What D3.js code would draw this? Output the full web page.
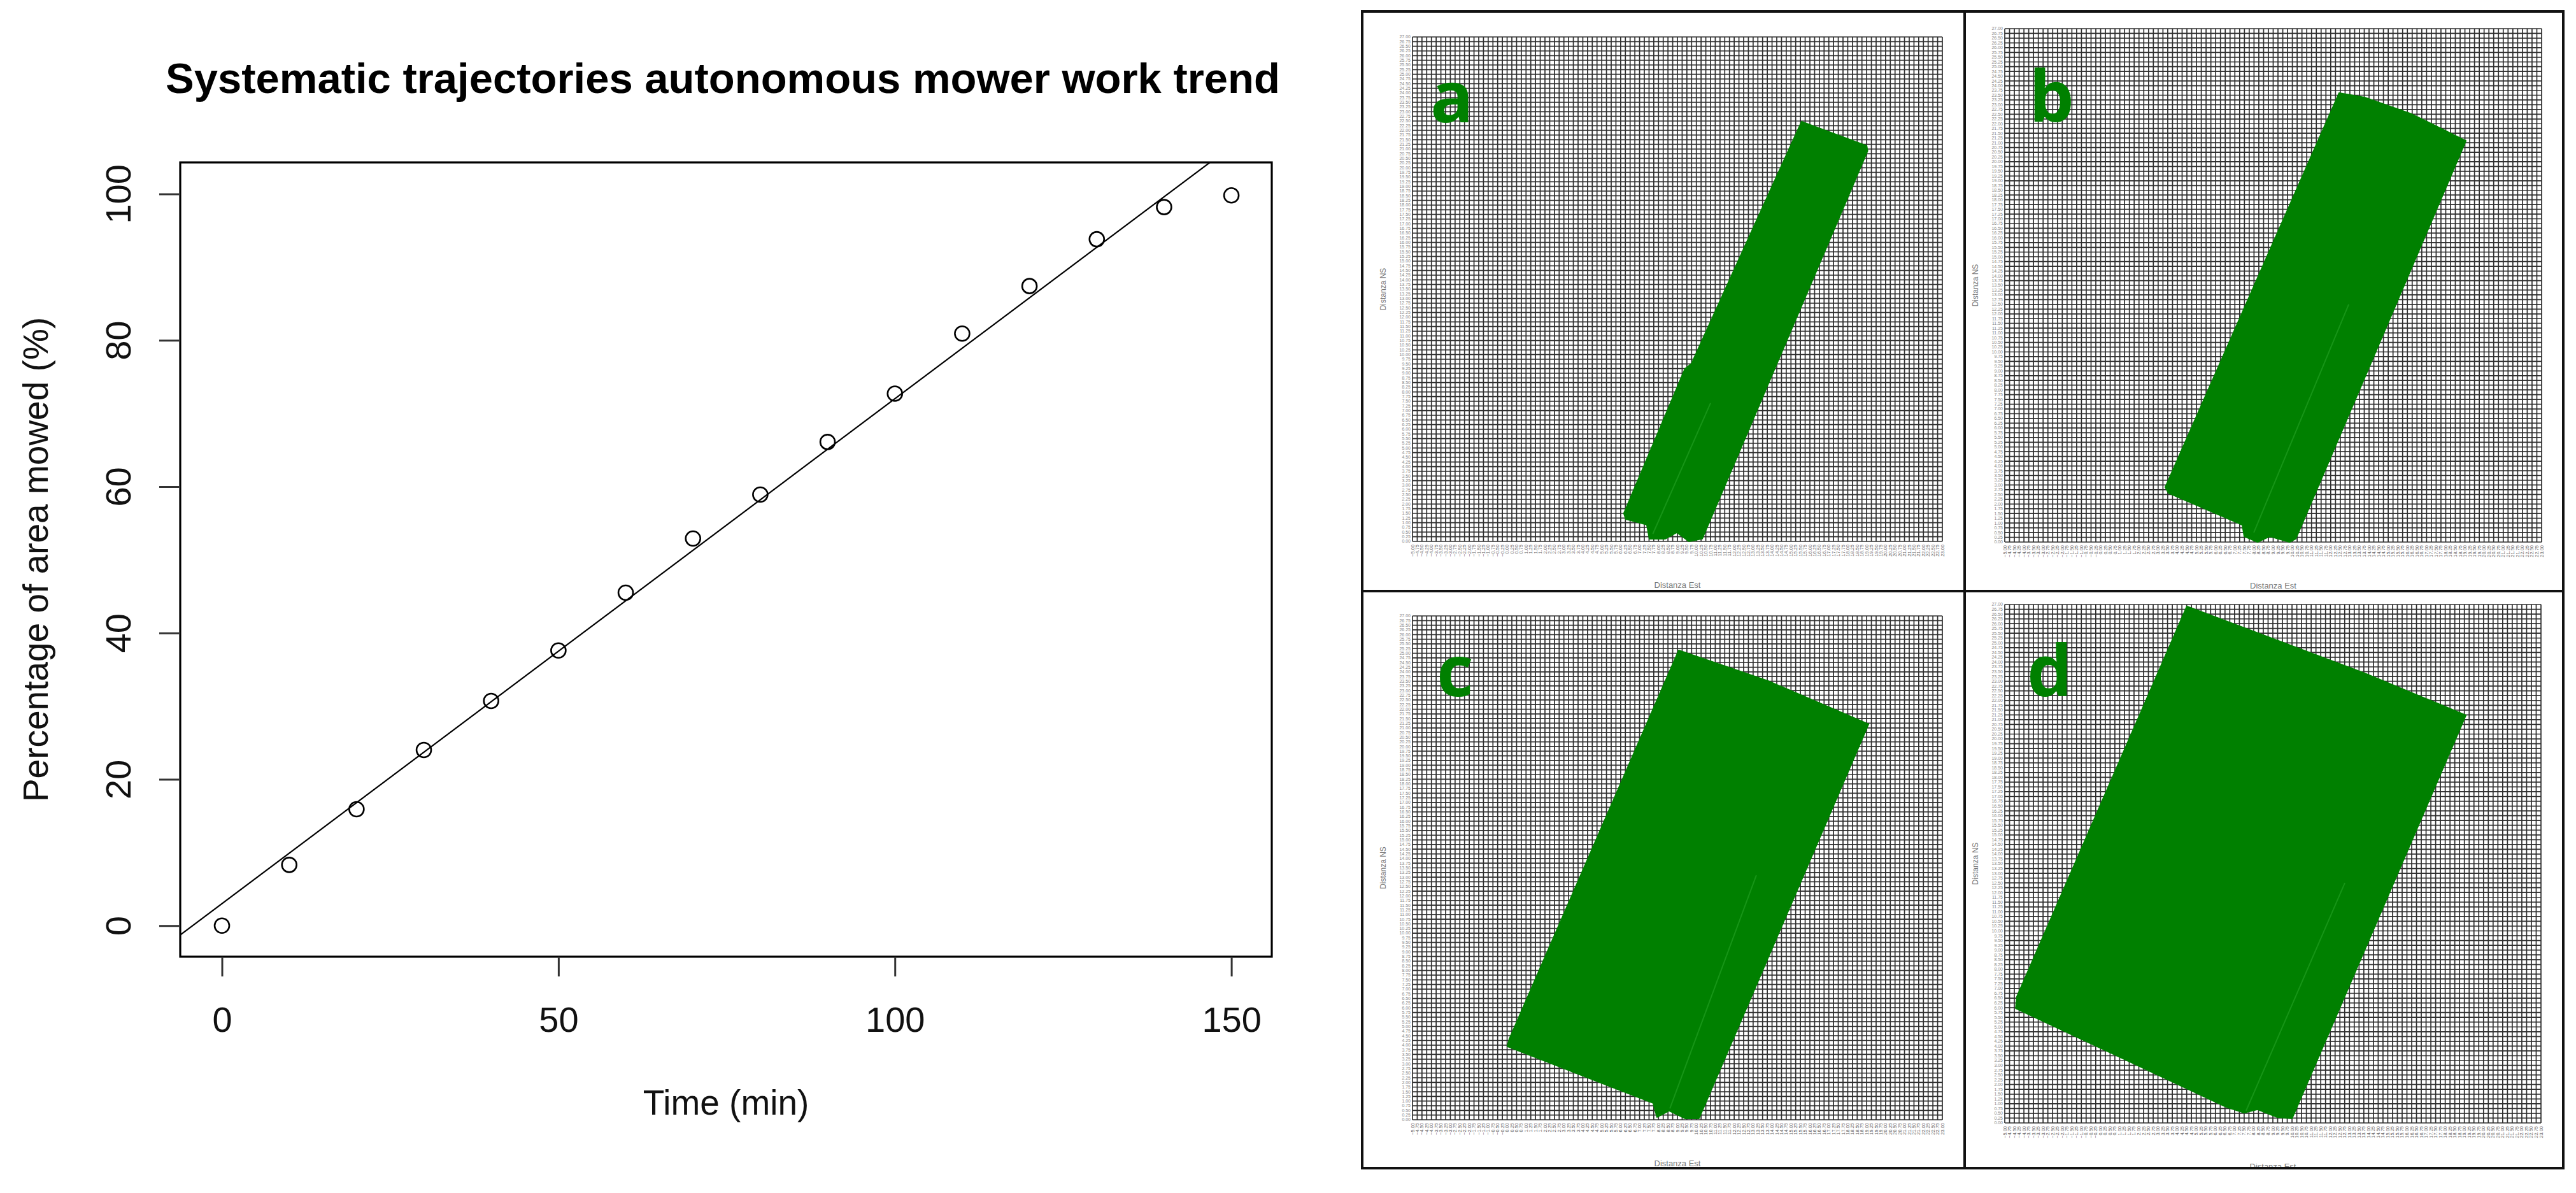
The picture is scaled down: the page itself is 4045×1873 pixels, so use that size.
<!DOCTYPE html>
<html><head><meta charset="utf-8">
<script src="https://cdn.jsdelivr.net/npm/d3@7"></script>
<style>html,body{margin:0;padding:0;background:#fff;} svg{display:block}</style>
</head><body>
<svg id="chart" width="4045" height="1873"></svg>
<script>
// ---------- data: left scatter chart ----------
const timeMin = [0,10,20,30,40,50,60,70,80,90,100,110,120,130,140,150];
const areaMowed = [0.0,8.3,15.9,24.0,30.7,37.6,45.5,52.9,58.9,66.1,72.7,80.9,87.4,93.8,98.2,99.8];
const xTickValues = [0,50,100,150];
const yTickValues = [0,20,40,60,80,100];
const fitIntercept = 3.0;
const fitSlope = 0.690;
const chartTitle = "Systematic trajectories autonomous mower work trend";
const xTitle = "Time (min)";
const yTitle = "Percentage of area mowed (%)";

// ---------- data: right mowed-area maps ----------
const panelNames = ["a","b","c","d"];
const eastDomain = [-5, 23];
const northDomain = [0, 27];
const gridStep = 0.25;
const eastTitle = "Distanza Est";
const northTitle = "Distanza NS";
const polyA = [[15.56,22.47],[19.0,21.17],[19.05,20.9],[10.31,0.14],[9.61,0.0],[8.97,0.48],[8.36,0.14],[7.52,0.14],[7.38,0.89],[6.27,1.19],[6.17,1.50],[9.40,9.24],[9.74,9.51]];
const polyB = [[12.44,23.62],[13.77,23.38],[16.22,22.51],[19.05,21.10],[10.18,0.17],[9.85,0.0],[8.82,0.30],[8.19,0.0],[7.49,0.30],[7.39,0.90],[3.54,2.58],[3.37,2.88]];
const polyC = [[9.07,25.16],[13.78,23.52],[19.10,21.20],[10.14,0.07],[9.40,0.07],[8.56,0.48],[7.92,0.14],[7.72,0.89],[0.01,3.93],[0.12,4.34]];
const polyD = [[4.51,26.90],[13.79,23.42],[19.08,21.23],[10.00,0.23],[9.23,0.30],[8.20,0.70],[7.50,0.53],[6.57,0.83],[-4.43,5.97],[-4.37,6.57]];
const panelPolygons = [polyA, polyB, polyC, polyD];
// faint lighter pass seam inside each mowed area
const seamA = [[7.70,0.40],[10.75,7.40]];
const seamB = [[7.99,0.50],[12.94,12.50]];
const seamC = [[8.60,0.60],[13.17,13.10]];
const seamD = [[7.60,0.63],[12.76,12.50]];
const panelSeams = [seamA, seamB, seamC, seamD];

// ---------- layout ----------
const svg = d3.select("#chart");
svg.append("rect").attr("width",4045).attr("height",1873).attr("fill","#fff");
const font = "'Liberation Sans', Arial, sans-serif";
const L = {left:283, right:1997, top:255, bottom:1502};
const x = d3.scaleLinear().domain([-6.2,156]).range([L.left,L.right]);
const y = d3.scaleLinear().domain([-4.25,104.3]).range([L.bottom,L.top]);

const left = svg.append("g");
left.append("text").attr("x",1135).attr("y",146).attr("text-anchor","middle")
  .attr("font-family",font).attr("font-weight","bold").attr("font-size",67).attr("fill","#000").text(chartTitle);

svg.append("defs").append("clipPath").attr("id","plotClip").append("rect")
  .attr("x",L.left).attr("y",L.top).attr("width",L.right-L.left).attr("height",L.bottom-L.top);

const xd = x.domain();
left.append("line").attr("clip-path","url(#plotClip)")
  .attr("x1",x(xd[0])).attr("y1",y(fitIntercept+fitSlope*xd[0]))
  .attr("x2",x(xd[1])).attr("y2",y(fitIntercept+fitSlope*xd[1]))
  .attr("stroke","#000").attr("stroke-width",2.2);

left.selectAll("circle.pt").data(timeMin).join("circle").attr("class","pt")
  .attr("cx",d=>x(d)).attr("cy",(d,i)=>y(areaMowed[i])).attr("r",11.5)
  .attr("fill","none").attr("stroke","#000").attr("stroke-width",2.6);

left.append("rect").attr("x",L.left).attr("y",L.top).attr("width",L.right-L.left).attr("height",L.bottom-L.top)
  .attr("fill","none").attr("stroke","#000").attr("stroke-width",3.2);

const gx = left.append("g").attr("transform",`translate(0,${L.bottom})`)
  .call(d3.axisBottom(x).tickValues(xTickValues).tickSize(31).tickPadding(47).tickFormat(d3.format("d")));
gx.select(".domain").remove();
gx.selectAll("line").attr("stroke","#333").attr("stroke-width",3);
gx.selectAll("text").attr("font-family",font).attr("font-size",56).attr("fill","#111");

const gy = left.append("g").attr("transform",`translate(${L.left},0)`)
  .call(d3.axisLeft(y).tickValues(yTickValues).tickSize(33).tickFormat(d3.format("d")));
gy.select(".domain").remove();
gy.selectAll("line").attr("stroke","#333").attr("stroke-width",3);
gy.selectAll("text").attr("x",null).attr("dy",null).attr("text-anchor","middle")
  .attr("transform","translate(-78,0) rotate(-90)")
  .attr("font-family",font).attr("font-size",56).attr("fill","#111");

left.append("text").attr("x",(L.left+L.right)/2).attr("y",1750).attr("text-anchor","middle")
  .attr("font-family",font).attr("font-size",55).attr("fill","#111").text(xTitle);
left.append("text").attr("transform",`translate(75,${(L.top+L.bottom)/2}) rotate(-90)`).attr("text-anchor","middle")
  .attr("font-family",font).attr("font-size",55).attr("fill","#111").text(yTitle);

// ---------- right panels ----------
const panelLayout = [
  {x0:2218, x1:3050, y0:58,  y1:850,  lx:2246, ly:192},
  {x0:3148, x1:3991, y0:45,  y1:851,  lx:3186, ly:191},
  {x0:2218, x1:3050, y0:967, y1:1758, lx:2256, ly:1093},
  {x0:3148, x1:3990, y0:949, y1:1763, lx:3183, ly:1093}
];
const fmt2 = d3.format(".2f");
panelLayout.forEach((p,i)=>{
  const g = svg.append("g");
  const px = d3.scaleLinear().domain(eastDomain).range([p.x0,p.x1]);
  const py = d3.scaleLinear().domain(northDomain).range([p.y1,p.y0]);
  const xs = d3.range(eastDomain[0], eastDomain[1]+1e-9, gridStep);
  const ys = d3.range(northDomain[0], northDomain[1]+1e-9, gridStep);
  g.selectAll("line.v").data(xs).join("line").attr("class","v")
    .attr("x1",d=>px(d)).attr("x2",d=>px(d)).attr("y1",p.y0).attr("y2",p.y1)
    .attr("stroke","#2e2e2e").attr("stroke-width",1.7);
  g.selectAll("line.h").data(ys).join("line").attr("class","h")
    .attr("y1",d=>py(d)).attr("y2",d=>py(d)).attr("x1",p.x0).attr("x2",p.x1)
    .attr("stroke","#2e2e2e").attr("stroke-width",1.7);
  g.selectAll("text.yl").data(ys).join("text").attr("class","yl")
    .attr("x",p.x0-3).attr("y",d=>py(d)).attr("dy","0.35em").attr("text-anchor","end")
    .attr("font-family",font).attr("font-size",7).attr("fill","#888").text(d=>fmt2(d));
  g.selectAll("text.xl").data(xs).join("text").attr("class","xl")
    .attr("transform",d=>`translate(${px(d)+2.5},${p.y1+5}) rotate(-90)`).attr("text-anchor","end")
    .attr("font-family",font).attr("font-size",7.5).attr("fill","#666").text(d=>fmt2(d));
  const lineGen = d3.line().x(d=>px(d[0])).y(d=>py(d[1]));
  g.append("path").datum(panelPolygons[i])
    .attr("d", lineGen.curve(d3.curveLinearClosed))
    .attr("fill","#008000").attr("stroke","#008000").attr("stroke-width",2).attr("stroke-linejoin","round");
  g.append("path").datum(panelSeams[i])
    .attr("d", d3.line().x(d=>px(d[0])).y(d=>py(d[1])))
    .attr("fill","none").attr("stroke","#2aa52a").attr("stroke-width",2).attr("stroke-opacity",0.55);
  g.append("text").attr("x",p.lx).attr("y",p.ly).text(panelNames[i])
    .attr("font-family","'Open Sans', sans-serif").attr("font-weight",700).attr("font-size",112).attr("fill","#008000");
  g.append("text").attr("transform",`translate(${p.x0-42},${(p.y0+p.y1)/2}) rotate(-90)`).attr("text-anchor","middle")
    .attr("font-family",font).attr("font-size",12).attr("fill","#777").text(northTitle);
  g.append("text").attr("x",(p.x0+p.x1)/2).attr("y",p.y1+73).attr("text-anchor","middle")
    .attr("font-family",font).attr("font-size",13).attr("fill","#777").text(eastTitle);
});

// frame and dividers
svg.append("rect").attr("x",2139).attr("y",18).attr("width",1886).attr("height",1816)
  .attr("fill","none").attr("stroke","#111").attr("stroke-width",4);
svg.append("line").attr("x1",3085).attr("x2",3085).attr("y1",18).attr("y2",1834).attr("stroke","#111").attr("stroke-width",4);
svg.append("line").attr("x1",2139).attr("x2",4025).attr("y1",928).attr("y2",928).attr("stroke","#111").attr("stroke-width",4);
</script>
</body></html>
